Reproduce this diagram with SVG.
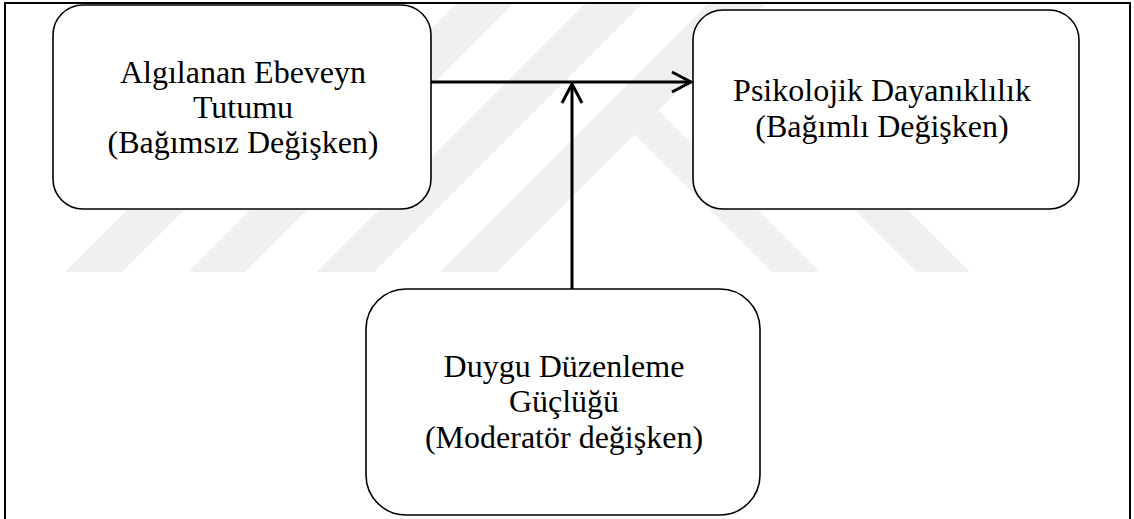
<svg xmlns="http://www.w3.org/2000/svg" width="1134" height="519" viewBox="0 0 1134 519">
  <style>
    .wm { fill: #f0f0f0; stroke: none; }
    .box { fill: #ffffff; stroke: #000000; stroke-width: 1.6; }
    .lbl { font-family: "Liberation Serif", "Times New Roman", serif; font-size: 32px; fill: #000000; text-anchor: middle; }
    .conn { fill: none; stroke: #000000; stroke-width: 3; stroke-linecap: butt; stroke-linejoin: miter; }
    .frame { fill: none; stroke: #000000; stroke-width: 2; }
  </style>
  <rect x="0" y="0" width="1134" height="519" fill="#ffffff"/>
  <g id="watermark">
    <polygon class="wm" points="65,272 122,272 391,4 334,4"/>
    <polygon class="wm" points="188,272 245,272 513,4 456,4"/>
    <polygon class="wm" points="317,272 374,272 642,4 585,4"/>
    <polygon class="wm" points="440,272 497,272 765,4 708,4"/>
    <polygon class="wm" points="634.5,134.5 658.5,110.5 820,272 772,272"/>
    <polygon class="wm" points="795,150 848,150 970,272 917,272"/>
  </g>
  <path class="frame" d="M5,521 V3 H1130 V521"/>
  <g id="node-ebeveyn">
    <rect class="box" x="53" y="5" width="378" height="204" rx="30" ry="30"/>
    <text class="lbl" x="243" y="83">Algılanan Ebeveyn</text>
    <text class="lbl" x="243" y="118">Tutumu</text>
    <text class="lbl" x="243" y="153">(Bağımsız Değişken)</text>
  </g>
  <g id="node-dayaniklilik">
    <rect class="box" x="693" y="10" width="386" height="199" rx="30" ry="30"/>
    <text class="lbl" x="882" y="101">Psikolojik Dayanıklılık</text>
    <text class="lbl" x="882" y="137">(Bağımlı Değişken)</text>
  </g>
  <g id="node-duygu">
    <rect class="box" x="366" y="289" width="394" height="226" rx="40" ry="40"/>
    <text class="lbl" x="564" y="377">Duygu Düzenleme</text>
    <text class="lbl" x="564" y="412">Güçlüğü</text>
    <text class="lbl" x="564" y="448">(Moderatör değişken)</text>
  </g>
  <g id="connectors">
    <line class="conn" x1="431" y1="82" x2="691" y2="82"/>
    <polyline class="conn" points="672,72 691,82 672,92"/>
    <line class="conn" x1="572" y1="289" x2="572" y2="85"/>
    <polyline class="conn" points="562,103 572,84 582,103"/>
  </g>
</svg>
